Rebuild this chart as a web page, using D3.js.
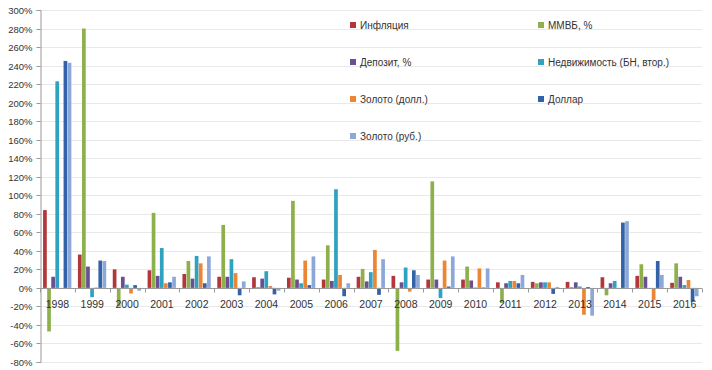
<!DOCTYPE html>
<html>
<head>
<meta charset="utf-8">
<script src="https://cdn.jsdelivr.net/npm/d3@7"></script>
<style>
  body { margin: 0; background: #fff; }
  svg { display: block; font-family: "Liberation Sans", Arial, sans-serif; }
</style>
</head>
<body>
<div id="chart"></div>
<script>
const years = ["1998","1999","2000","2001","2002","2003","2004","2005","2006","2007","2008","2009","2010","2011","2012","2013","2014","2015","2016"];

const inflation = [84, 36, 20, 19, 15, 12, 11.5, 11, 9, 12, 13, 9, 9, 6, 6.5, 6.5, 11.5, 13, 5.5];
const mmvb      = [-47, 280, -20, 81, 29, 68, 1, 94, 46, 20.5, -68, 115, 23, -16.5, 5, 1, -8, 25.5, 26.5];
const deposit   = [12, 23, 12, 13, 10, 12, 10, 9, 7.5, 7, 6, 9, 8, 5, 6, 6, 5, 12, 12];
const realty    = [223, -10, 3.5, 43, 34.5, 31, 18, 5, 106.5, 17, 22, -11, 0.5, 7.5, 6, 1.5, 7.5, -1, 3];
const goldUsd   = [-1, 0.5, -6, 5, 26.5, 16, 2, 29.5, 14, 41, -4, 29.5, 21, 7.5, 6, -29, -1, -13, 8.5];
const dollar    = [245, 29.5, 3, 6, 5, -8, -7, 3, -9, -7.5, 19, 1.5, 0.5, 5, -6.5, 1, 70.5, 29, -15];
const goldRub   = [243, 29, -3, 12, 34, 7, -3, 34, 5, 31, 14, 34, 21, 14, 1, -30, 72, 14, -9];

const yTicks = d3.range(-80, 301, 20);

const series = [
  { name: "Инфляция", values: inflation, color: "#b3373a" },
  { name: "ММВБ, %", values: mmvb, color: "#8eb04c" },
  { name: "Депозит, %", values: deposit, color: "#6a4f93" },
  { name: "Недвижимость (БН, втор.)", values: realty, color: "#2ea2bf" },
  { name: "Золото (долл.)", values: goldUsd, color: "#ec8534" },
  { name: "Доллар", values: dollar, color: "#3462a8" },
  { name: "Золото (руб.)", values: goldRub, color: "#8ca8d9" },
];

const size = { width: 712, height: 370 };
const margin = { top: 10, right: 10, bottom: 8, left: 40 };

const svg = d3.select("#chart").append("svg")
  .attr("width", size.width)
  .attr("height", size.height);

const y = d3.scaleLinear()
  .domain([-80, 300])
  .range([size.height - margin.bottom, margin.top]);

const x = d3.scaleBand()
  .domain(years)
  .range([margin.left, size.width - margin.right])
  .paddingInner(0)
  .paddingOuter(0);

// gap width ~150%: 7 bars + 1.5 bar widths per category
const inner = d3.scaleBand()
  .domain(series.map((d) => d.name))
  .range([0, x.bandwidth()])
  .paddingInner(0)
  .paddingOuter(0.75);

// gridlines
svg.append("g")
  .selectAll("line")
  .data(yTicks)
  .join("line")
  .attr("x1", margin.left)
  .attr("x2", size.width - margin.right)
  .attr("y1", (d) => Math.round(y(d)) + 0.5)
  .attr("y2", (d) => Math.round(y(d)) + 0.5)
  .attr("stroke", "#e9e9e9");

// y axis
const yAxis = svg.append("g")
  .attr("transform", `translate(${margin.left + 0.5}, 0)`)
  .call(d3.axisLeft(y).tickValues(yTicks).tickSize(4).tickPadding(4).tickFormat((d) => d + "%"));
yAxis.select(".domain").attr("stroke", "#999");
yAxis.selectAll(".tick line").attr("stroke", "#999");
yAxis.selectAll(".tick text")
  .style("font-size", "9.5px")
  .attr("fill", "#333");
yAxis.selectAll(".tick").attr("transform", (d) => `translate(0, ${Math.round(y(d)) + 0.5})`);

// bars
const groups = svg.append("g")
  .selectAll("g")
  .data(series)
  .join("g")
  .attr("fill", (d) => d.color);

groups.selectAll("rect")
  .data((s) => s.values.map((v, i) => ({ name: s.name, year: years[i], value: v })))
  .join("rect")
  .attr("x", (d) => x(d.year) + inner(d.name))
  .attr("width", inner.bandwidth() - 0.4)
  .attr("y", (d) => y(Math.max(0, d.value)))
  .attr("height", (d) => Math.abs(y(d.value) - y(0)));

// category axis on the zero line
const zeroY = Math.round(y(0)) + 0.5;
svg.append("line")
  .attr("x1", margin.left)
  .attr("x2", size.width - margin.right)
  .attr("y1", zeroY)
  .attr("y2", zeroY)
  .attr("stroke", "#999");

svg.append("g")
  .selectAll("line")
  .data(years.concat(["end"]))
  .join("line")
  .attr("x1", (d, i) => Math.round(margin.left + i * x.bandwidth()) + 0.5)
  .attr("x2", (d, i) => Math.round(margin.left + i * x.bandwidth()) + 0.5)
  .attr("y1", zeroY)
  .attr("y2", zeroY + 4)
  .attr("stroke", "#999");

svg.append("g")
  .selectAll("text")
  .data(years)
  .join("text")
  .attr("x", (d) => x(d) + x.bandwidth() / 2)
  .attr("y", zeroY + 19)
  .attr("text-anchor", "middle")
  .style("font-size", "10.5px")
  .attr("fill", "#333")
  .text((d) => d);

// legend
const legendPos = [
  [350, 25], [538, 25],
  [350, 62], [538, 62],
  [350, 99], [538, 99],
  [350, 136],
];

const legend = svg.append("g")
  .selectAll("g")
  .data(series)
  .join("g")
  .attr("transform", (d, i) => `translate(${legendPos[i][0]}, ${legendPos[i][1]})`);

legend.append("rect")
  .attr("x", 0)
  .attr("y", -3)
  .attr("width", 6)
  .attr("height", 6)
  .attr("fill", (d) => d.color);

legend.append("text")
  .attr("x", 10)
  .attr("y", 0)
  .attr("dy", "0.35em")
  .style("font-size", "10px")
  .attr("fill", "#333")
  .text((d) => d.name);
</script>
</body>
</html>
